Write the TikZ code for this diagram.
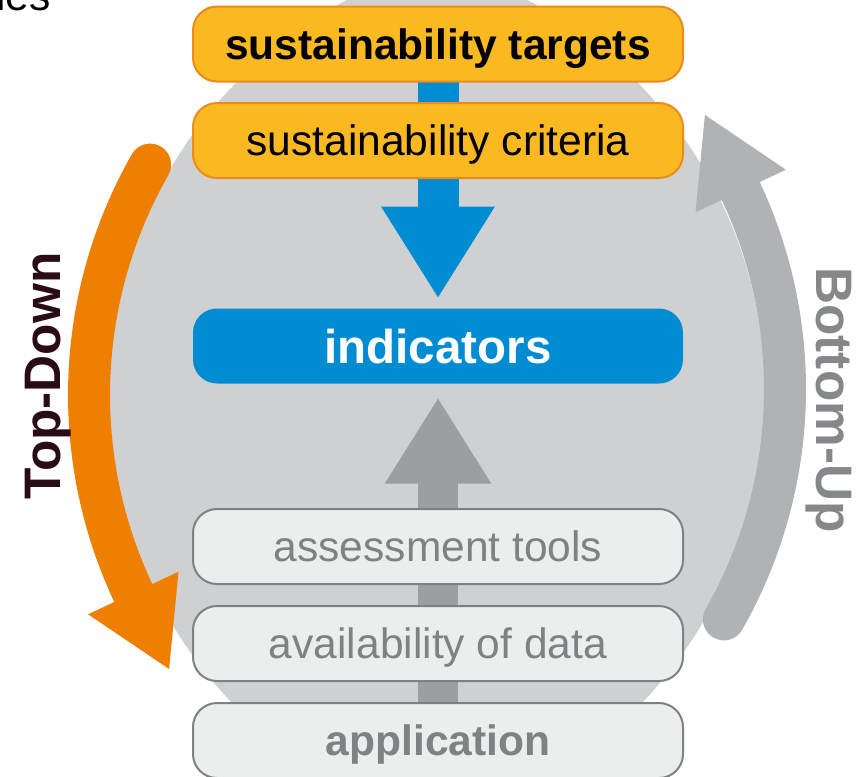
\documentclass[tikz,border=0pt]{standalone}
\usepackage{fontspec}
\setmainfont{Liberation Sans}
\usetikzlibrary{arrows.meta}
\definecolor{lensgrey}{HTML}{CFD0D2}
\definecolor{boxyellow}{HTML}{FAB921}
\definecolor{boxorange}{HTML}{EE8A1A}
\definecolor{arroworange}{HTML}{EE7F00}
\definecolor{blueind}{HTML}{008CD2}
\definecolor{lightbox}{HTML}{ECEDED}
\definecolor{lightborder}{HTML}{7F8082}
\definecolor{lighttext}{HTML}{808183}
\definecolor{midgrey}{HTML}{9D9E9F}
\definecolor{sidegrey}{HTML}{B1B2B4}
\definecolor{tdtext}{HTML}{2A0C16}
\definecolor{butext}{HTML}{86878A}
\pgfdeclarelayer{back}
\pgfdeclarelayer{mid}
\pgfsetlayers{back,mid,main}
\newcommand\lblfont{\fontsize{31.9pt}{38pt}\selectfont}
\newcommand\indfont{\fontsize{35.6pt}{42pt}\selectfont}
\newcommand\sidefont{\fontsize{38.5pt}{46pt}\selectfont}
\begin{document}
\begin{tikzpicture}[x=0.75pt,y=-0.75pt,
  levelbox/.style={rounded corners=18pt, minimum width=367.5pt, minimum height=56.25pt,
    inner sep=0pt, text height=23pt, text depth=0pt, line width=1.5pt},
  topbox/.style={levelbox, fill=boxyellow, draw=boxorange},
  indbox/.style={levelbox, fill=blueind, text=white, font=\indfont\bfseries, text height=25.6pt},
  basebox/.style={levelbox, fill=lightbox, draw=lightborder, text=lighttext},
  sidearrow/.style={line width=31.5pt, line cap=round}]
\useasboundingbox (0,0) rectangle (866,776);

\node[anchor=base west, font=\lblfont, inner sep=0pt] (frag) at (-4,10) {ies};

\node[topbox, font=\lblfont\bfseries] (targets) at (438,44) {sustainability targets};
\node[topbox, font=\lblfont] (criteria) at (438,140.5) {sustainability criteria};
\node[indbox] (indicators) at (438,346) {indicators};
\node[basebox, font=\lblfont] (tools) at (438,546.5) {assessment tools};
\node[basebox, font=\lblfont] (data) at (438,643.5) {availability of data};
\node[basebox, font=\lblfont\bfseries] (application) at (438,740.5) {application};

\node[rotate=90, font=\sidefont\bfseries, text=tdtext] (topdown) at (48,376) {Top-Down};
\node[rotate=-90, font=\sidefont\bfseries, text=butext] (bottomup) at (829,400) {Bottom-Up};

\begin{pgfonlayer}{back}
  \fill[white] (0,0) rectangle (866,776);
  \begin{scope}
    \clip (556,395) circle[radius=447];
    \fill[lensgrey] (318,395) circle[radius=447];
  \end{scope}
\end{pgfonlayer}

\begin{pgfonlayer}{mid}
  \draw[blueind, line width=30.75pt, -{Triangle[width=80.25pt,length=69pt]}, shorten >=6.75pt]
    (targets.center) -- (indicators.north);
  \draw[midgrey, line width=30pt, -{Triangle[width=75pt,length=64.5pt]}, shorten >=9.75pt]
    (application.center) -- (indicators.south);
  \draw[arroworange, sidearrow] (554,395) ++(209.7:465) arc[start angle=209.7, end angle=154.8, radius=465];
  \fill[arroworange] (169.1,669) -- (178.5,571.7) -- (88.1,614.3) -- cycle;
  \begin{scope}[rotate around={180:(437,392)}]
    \draw[sidegrey, sidearrow] (554,395) ++(209.7:465) arc[start angle=209.7, end angle=154.8, radius=465];
    \fill[sidegrey] (169.1,669) -- (178.5,571.7) -- (88.1,614.3) -- cycle;
  \end{scope}
\end{pgfonlayer}
\end{tikzpicture}
\end{document}
